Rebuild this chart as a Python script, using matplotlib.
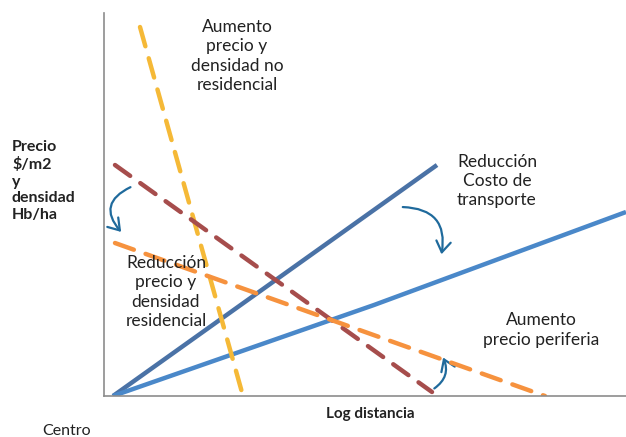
import matplotlib
matplotlib.use("Agg")
import matplotlib.pyplot as plt
from matplotlib.patches import FancyArrowPatch

W, H = 626, 437
plt.rcParams['font.family'] = ['Lato', 'DejaVu Sans']

# Data (x: log distance, y: price/density)
x_transport_old = [9, 333]
y_transport_old = [0, 231]
x_transport_new = [9, 270, 522]
y_transport_new = [0, 91, 184]
x_nonres = [36, 139]
y_nonres = [369, 0]
x_res_old = [11, 328]
y_res_old = [231, 4]
x_res_new = [11, 441]
y_res_new = [153, 0]

fig = plt.figure(figsize=(W / 100, H / 100), dpi=100)
ax_l, ax_r, ax_t, ax_b = 104, 626, 13, 396
ax = fig.add_axes([ax_l / W, 1 - ax_b / H, (ax_r - ax_l) / W, (ax_b - ax_t) / H])
ax.set_xlim(0, ax_r - ax_l)
ax.set_ylim(0, ax_b - ax_t)
for s in ['top', 'right']:
    ax.spines[s].set_visible(False)
for s in ['left', 'bottom']:
    ax.spines[s].set_color('#8c8c8c')
    ax.spines[s].set_linewidth(1.2)
ax.set_xticks([])
ax.set_yticks([])

ax.plot(x_transport_old, y_transport_old, color='#4a72a6', lw=3.2, solid_capstyle='butt')
ax.plot(x_transport_new, y_transport_new, color='#4a88c9', lw=3.2, solid_capstyle='butt',
        solid_joinstyle='round')
ax.plot(x_nonres, y_nonres, color='#f5b937', lw=3.2, dashes=(4.5, 2.8), dash_capstyle='round')
ax.plot(x_res_old, y_res_old, color='#a64d4c', lw=3.2, dashes=(4.2, 2.8), dash_capstyle='round')
ax.plot(x_res_new, y_res_new, color='#f6923e', lw=3.2, dashes=(4.5, 2.8), dash_capstyle='round')

def px(xp, yp):
    return (xp - ax_l, ax_b - yp)

arrow_c = '#1f6a9c'
def arrow(p0, p1, rad):
    a = FancyArrowPatch(px(*p0), px(*p1), connectionstyle=f'arc3,rad={rad}',
                        arrowstyle='->,head_length=6,head_width=4', color=arrow_c,
                        lw=1.6, mutation_scale=1.3)
    ax.add_patch(a)

arrow((133, 186), (123, 234), 0.7)
arrow((400, 207), (441, 257), -0.6)
arrow((432, 390), (442, 355), 0.45)

fs = 12.5
def t(xp, yp, s, **kw):
    fig.text(xp / W, 1 - yp / H, s, **kw)

t(237, 56, "Aumento\nprecio y\ndensidad no\nresidencial", ha='center', va='center',
  fontsize=fs, linespacing=1.25, color='#222222')
t(497, 181, "Reducción\nCosto de\ntransporte", ha='center', va='center',
  fontsize=fs, linespacing=1.25, color='#222222')
t(166, 292, "Reducción\nprecio y\ndensidad\nresidencial", ha='center', va='center',
  fontsize=fs, linespacing=1.25, color='#222222')
t(541, 330, "Aumento\nprecio periferia", ha='center', va='center',
  fontsize=fs, linespacing=1.25, color='#222222')
t(12, 181, "Precio\n$/m2\ny\ndensidad\nHb/ha", ha='left', va='center',
  fontsize=11.5, fontweight='bold', linespacing=1.25, color='#222222')
t(370, 414, "Log distancia", ha='center', va='center', fontsize=11, fontweight='bold', color='#222222')
t(67, 431, "Centro", ha='center', va='center', fontsize=11.5, color='#222222')

fig.savefig('out.png', dpi=100)
